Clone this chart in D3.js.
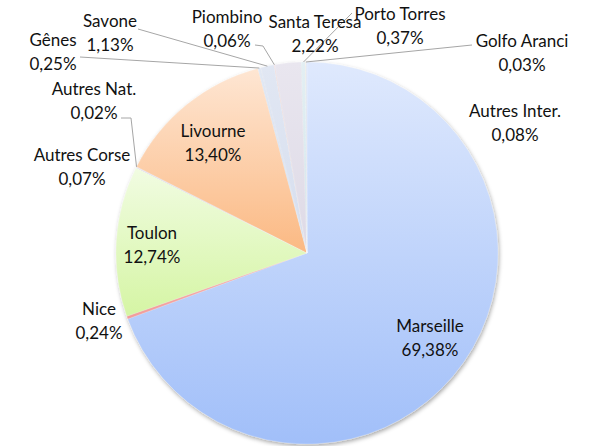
<!DOCTYPE html>
<html>
<head>
<meta charset="utf-8">
<script src="https://cdn.jsdelivr.net/npm/d3@7"></script>
<style>
  html, body { margin: 0; padding: 0; background: #fff; }
  svg { display: block; }
  text { font-family: Lato, "Open Sans", sans-serif; font-size: 17px; fill: #111; }
</style>
</head>
<body>
<svg id="chart" width="589" height="446"></svg>
<script>
// ---- data ----
const categories = ["Marseille", "Nice", "Toulon", "Autres Corse", "Autres Nat.", "Livourne",
  "Gênes", "Savone", "Piombino", "Santa Teresa", "Porto Torres", "Golfo Aranci", "Autres Inter."];
const values = [69.38, 0.24, 12.74, 0.07, 0.02, 13.40, 0.25, 1.13, 0.06, 2.22, 0.37, 0.03, 0.08];

// ---- styles / layout ----
const colorTop = ["#dfe9fd", "#f7b4b2", "#f1fce2", "#e2d9ee", "#d6eef5", "#fee6d3",
  "#e1e8f4", "#e1e7f3", "#f2d6d5", "#e9e6ef", "#e3eff3", "#fde6d4", "#dfe6f5"];
const colorBottom = ["#a1bff9", "#f19c9a", "#d5f5a4", "#c7b7df", "#a6dbeb", "#fbb983",
  "#d2ddef", "#d6deee", "#e8c0bf", "#dedae6", "#d3e6ec", "#f9cba8", "#c8d5ee"];
const labelPos = [[430, 332], [99, 315], [152, 239], [82, 161], [94, 95], [213, 137],
  [53, 46], [110, 27], [227, 23], [315, 28], [400, 20], [522, 47], [515, 117]];
// leader line start points (and optional elbows); end point comes from the slice
const leaders = {
  4: [[121, 118], [131, 118]],
  6: [[80, 57]],
  7: [[138, 29]],
  8: [[255, 45], [263, 46]],
  10: [[352, 13]],
  11: [[472, 45]]
};
const cx = 307, cy = 253, R = 191;
const lineGap = 23.5;

const svg = d3.select("#chart");
const defs = svg.append("defs");
const f = defs.append("filter").attr("id", "shadow")
  .attr("x", "-10%").attr("y", "-10%").attr("width", "120%").attr("height", "120%");
f.append("feDropShadow").attr("dx", 1).attr("dy", 2).attr("stdDeviation", 2)
  .attr("flood-color", "#000").attr("flood-opacity", 0.35);

categories.forEach((c, i) => {
  const g = defs.append("linearGradient").attr("id", "grad" + i)
    .attr("x1", 0).attr("y1", 0).attr("x2", 0).attr("y2", 1);
  g.append("stop").attr("offset", "0%").attr("stop-color", colorTop[i]);
  g.append("stop").attr("offset", "100%").attr("stop-color", colorBottom[i]);
});

const pie = d3.pie().sort(null).value(d => d).startAngle(0).endAngle(2 * Math.PI);
const arcs = pie(values);
const arc = d3.arc().innerRadius(0).outerRadius(R);
const edge = d3.arc().innerRadius(R).outerRadius(R);

const gPie = svg.append("g").attr("transform", `translate(${cx},${cy})`);
gPie.append("g").attr("filter", "url(#shadow)")
  .selectAll("path").data(arcs).join("path")
  .attr("d", arc)
  .attr("fill", (d, i) => `url(#grad${i})`)
  .attr("stroke", "#ffffff").attr("stroke-opacity", 0.35).attr("stroke-width", 0.5);

// leader lines
const line = d3.line();
Object.keys(leaders).forEach(k => {
  const i = +k;
  const [ex, ey] = edge.centroid(arcs[i]);
  const pts = leaders[k].concat([[cx + ex, cy + ey]]);
  svg.append("path").attr("d", line(pts))
    .attr("fill", "none").attr("stroke", "#a6a6a6").attr("stroke-width", 1);
});

// labels
const fmt = v => d3.format(".2f")(v).replace(".", ",") + "%";
const gLab = svg.append("g");
categories.forEach((c, i) => {
  const t = gLab.append("text").attr("text-anchor", "middle");
  t.append("tspan").attr("x", labelPos[i][0]).attr("y", labelPos[i][1]).text(c);
  t.append("tspan").attr("x", labelPos[i][0]).attr("y", labelPos[i][1] + lineGap).text(fmt(values[i]));
});
</script>
</body>
</html>
